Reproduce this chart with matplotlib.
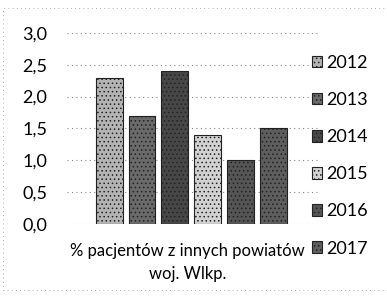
import matplotlib.pyplot as plt
import numpy as np

years = ['2012', '2013', '2014', '2015', '2016', '2017']
values = [2.3, 1.7, 2.4, 1.4, 1.0, 1.5]
category = '% pacjentów z innych powiatów\nwoj. Wlkp.'
yticks = [0.0, 0.5, 1.0, 1.5, 2.0, 2.5, 3.0]
ytick_labels = ['0,0', '0,5', '1,0', '1,5', '2,0', '2,5', '3,0']

# scanned greyscale fills
faces = ['#b4b4b4', '#6a6a6a', '#474747', '#d2d2d2', '#555555', '#5e5e5e']

plt.rcParams['font.family'] = ['Lato', 'DejaVu Sans']
plt.rcParams['hatch.linewidth'] = 0.6

fig = plt.figure(figsize=(3.87, 2.97), dpi=100)
ax = fig.add_axes([0.173, 0.246, 0.649, 0.643])

x = np.arange(len(years))
for i in range(len(years)):
    ax.bar(x[i], values[i], width=0.82, color=faces[i], edgecolor='#222222',
           linewidth=0.8, hatch='....', label=years[i], zorder=3)

ax.set_xlim(-1.28, 6.35)
ax.set_ylim(0, 3)
ax.set_yticks(yticks)
ax.set_yticklabels(ytick_labels, fontsize=13)
ax.set_xticks([])
ax.yaxis.grid(True, linestyle=(0, (1, 3)), color='#888888', linewidth=0.8)
ax.set_axisbelow(True)
for s in ax.spines.values():
    s.set_visible(False)
ax.tick_params(axis='y', length=0, pad=14)
ax.set_xlabel(category, fontsize=12, labelpad=14, linespacing=1.5)
ax.xaxis.label.set_x(0.48)

fig.legend(loc='upper left', bbox_to_anchor=(0.805, 0.815), frameon=False,
           fontsize=13, handlelength=0.6, handleheight=0.6, handletextpad=0.2,
           labelspacing=1.17, borderaxespad=0, borderpad=0)

# faint dotted border of the scanned chart area
fig.patches.append(plt.Rectangle((0.008, 0.025), 1.2, 0.948, transform=fig.transFigure,
                                 fill=False, linestyle=(0, (1, 4)), edgecolor='#999999',
                                 linewidth=0.6))

fig.savefig('out.png', dpi=100)
